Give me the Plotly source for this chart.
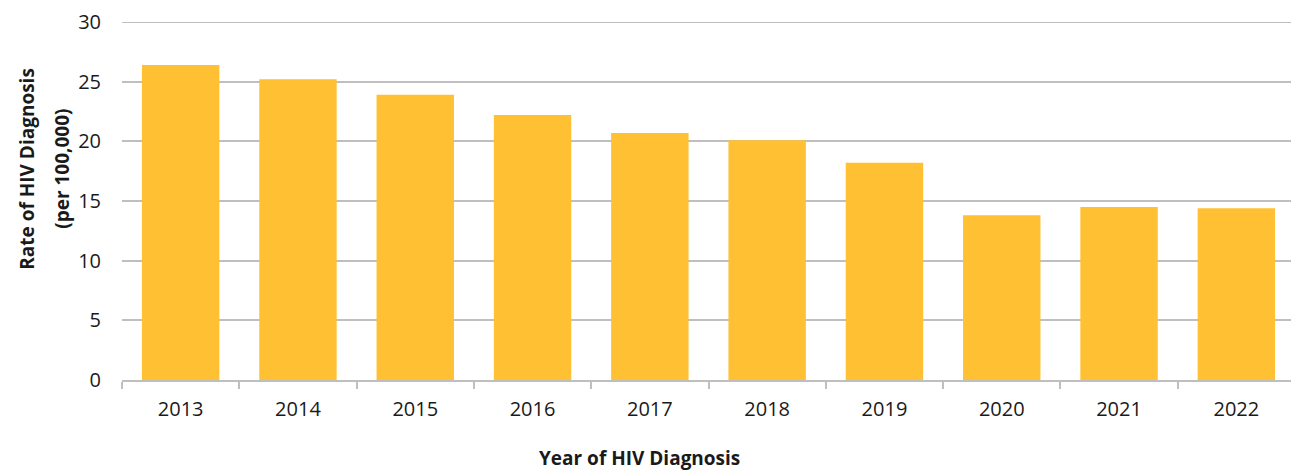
import plotly.graph_objects as go

# Rate of HIV diagnosis per 100,000, by year
years = ["2013", "2014", "2015", "2016", "2017", "2018", "2019", "2020", "2021", "2022"]
rates = [26.4, 25.2, 23.9, 22.2, 20.7, 20.1, 18.2, 13.8, 14.5, 14.4]
y_ticks = [0, 5, 10, 15, 20, 25, 30]

fig = go.Figure()

fig.add_trace(go.Bar(
    x=years, y=rates,
    marker=dict(color="#FFC133", line=dict(width=0)),
    width=0.66,
    hoverinfo="x+y",
))

# page body has an 8px margin, so the figure is sized to fit inside it
fig.update_layout(
    width=1291, height=464,
    margin=dict(l=114, r=4, t=14, b=92),
    plot_bgcolor="white",
    paper_bgcolor="white",
    font=dict(family="Open Sans, Calibri, sans-serif", size=20, color="#1a1a1a"),
    showlegend=False,
    bargap=0.34,
)

fig.update_xaxes(
    type="category",
    showline=True, linecolor="#BFBFBF", linewidth=2,
    ticks="outside", tickson="boundaries", ticklen=7, tickcolor="#BFBFBF", tickwidth=2,
    showgrid=False,
    tickfont=dict(size=20),
    ticklabelstandoff=10,
)

fig.update_yaxes(
    range=[0, 30], tickvals=y_ticks,
    showgrid=True, gridcolor="#BFBFBF", gridwidth=2,
    zeroline=False,
    showline=False,
    ticks="", ticklabelstandoff=20,
    ticklabeloverflow="allow",
    automargin=False,
    tickfont=dict(size=20),
)

# top gridline sits on the plot edge, plotly drops it, so draw it as a shape
fig.add_shape(type="line", xref="paper", yref="y", x0=0, x1=1, y0=y_ticks[-1], y1=y_ticks[-1],
              line=dict(color="#BFBFBF", width=2), layer="below")

# axis titles as annotations (placed as in the original, not centred on the plot)
title_font = dict(size=19, color="#1a1a1a")
fig.add_annotation(text="<b>Rate of HIV Diagnosis</b>", xref="paper", yref="paper",
                   x=0, y=0.59, xshift=-95, textangle=-90, showarrow=False,
                   xanchor="center", yanchor="middle", font=title_font)
fig.add_annotation(text="<b>(per 100,000)</b>", xref="paper", yref="paper",
                   x=0, y=0.59, xshift=-60, textangle=-90, showarrow=False,
                   xanchor="center", yanchor="middle", font=title_font)
fig.add_annotation(text="<b>Year of HIV Diagnosis</b>", xref="paper", yref="paper",
                   x=0.4416, y=0, yshift=-78, showarrow=False,
                   xanchor="center", yanchor="middle", font=title_font)

fig.write_html("out.html")
